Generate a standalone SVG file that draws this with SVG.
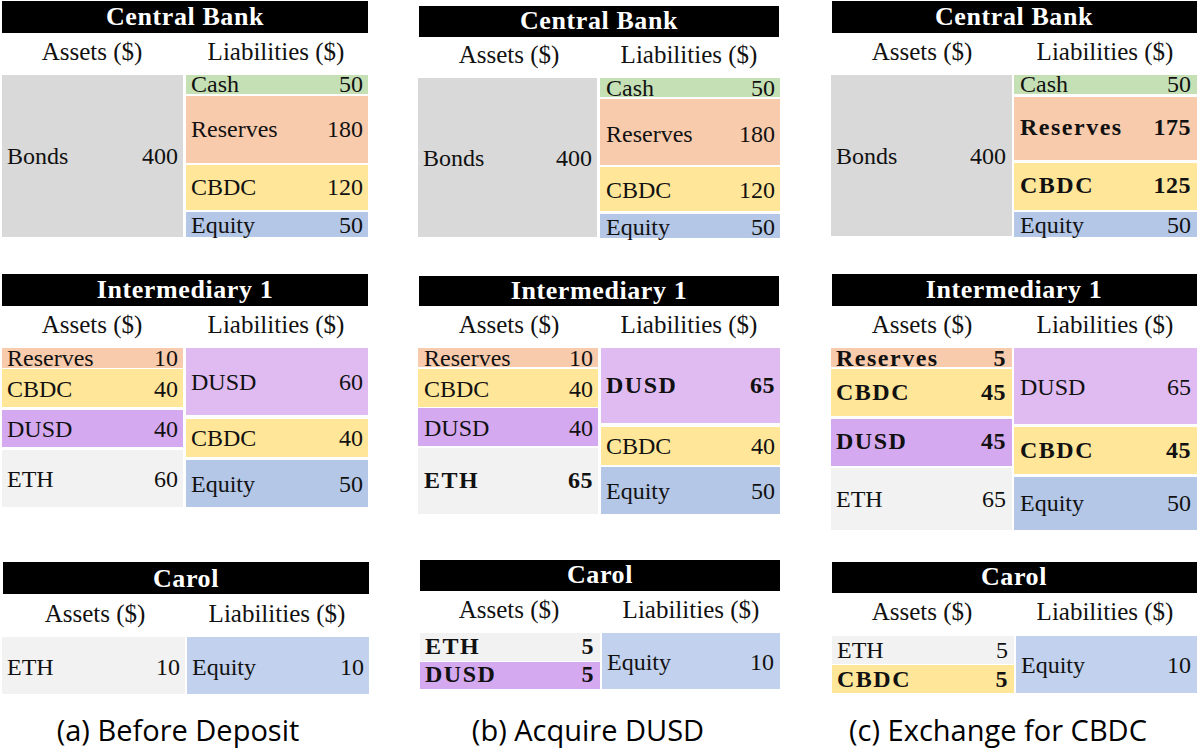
<svg xmlns="http://www.w3.org/2000/svg" width="1200" height="753" viewBox="0 0 1200 753">
<style>
.bar{fill:#000}
.ttl{font-family:"Liberation Serif","Times New Roman",serif;font-size:26px;font-weight:bold;fill:#fff;text-anchor:middle;letter-spacing:0.6px}
.hd{font-family:"Liberation Serif","Times New Roman",serif;font-size:25px;fill:#111;text-anchor:middle}
.t{font-family:"Liberation Serif","Times New Roman",serif;font-size:24px;fill:#111}
.n{font-family:"Liberation Serif","Times New Roman",serif;font-size:24px;fill:#111;text-anchor:end}
.t.b{font-weight:bold;letter-spacing:1.5px}
.n.b{font-weight:bold;letter-spacing:0.5px}
.cap{font-family:"Open Sans","Noto Sans","DejaVu Sans",sans-serif;font-size:29px;fill:#000;text-anchor:middle}
.bonds{fill:#d9d9d9}.eth{fill:#f2f2f2}.cash{fill:#c5e0b4}.res{fill:#f8cbad}.cbdc{fill:#ffe699}.eq{fill:#b4c7e7}.eq2{fill:#c2d2ee}.dusdA{fill:#d5a9f0}.dusdL{fill:#e0bbf2}
</style>
<rect width="1200" height="753" fill="#fff"/>

<!-- Column (a) -->
<g id="cb-a">
<rect class="bar" x="2" y="1" width="366" height="32"/>
<text class="ttl" x="185" y="25">Central Bank</text>
<text class="hd" x="92" y="60">Assets ($)</text>
<text class="hd" x="276" y="60">Liabilities ($)</text>
<rect class="bonds" x="2" y="75" width="181" height="162"/>
<text class="t" x="7" y="164">Bonds</text><text class="n" x="178" y="164">400</text>
<rect class="cash" x="186" y="75" width="182" height="19"/>
<text class="t" x="191" y="92">Cash</text><text class="n" x="363" y="92">50</text>
<rect class="res" x="186" y="96" width="182" height="67"/>
<text class="t" x="191" y="137">Reserves</text><text class="n" x="363" y="137">180</text>
<rect class="cbdc" x="186" y="165" width="182" height="45"/>
<text class="t" x="191" y="195">CBDC</text><text class="n" x="363" y="195">120</text>
<rect class="eq" x="186" y="212" width="182" height="25"/>
<text class="t" x="191" y="233">Equity</text><text class="n" x="363" y="233">50</text>
</g>

<g id="int-a">
<rect class="bar" x="2" y="274" width="366" height="32"/>
<text class="ttl" x="185" y="298">Intermediary 1</text>
<text class="hd" x="92" y="333">Assets ($)</text>
<text class="hd" x="276" y="333">Liabilities ($)</text>
<rect class="res" x="2" y="348" width="181" height="20"/>
<text class="t" x="7" y="366">Reserves</text><text class="n" x="178" y="366">10</text>
<rect class="cbdc" x="2" y="369" width="181" height="38"/>
<text class="t" x="7" y="397">CBDC</text><text class="n" x="178" y="397">40</text>
<rect class="dusdA" x="2" y="410" width="181" height="37"/>
<text class="t" x="7" y="437">DUSD</text><text class="n" x="178" y="437">40</text>
<rect class="eth" x="2" y="450" width="181" height="57"/>
<text class="t" x="7" y="487">ETH</text><text class="n" x="178" y="487">60</text>
<rect class="dusdL" x="186" y="348" width="182" height="67"/>
<text class="t" x="191" y="390">DUSD</text><text class="n" x="363" y="390">60</text>
<rect class="cbdc" x="186" y="419" width="182" height="38"/>
<text class="t" x="191" y="446">CBDC</text><text class="n" x="363" y="446">40</text>
<rect class="eq" x="186" y="460" width="182" height="47"/>
<text class="t" x="191" y="492">Equity</text><text class="n" x="363" y="492">50</text>
</g>

<g id="carol-a">
<rect class="bar" x="3" y="562" width="366" height="32"/>
<text class="ttl" x="186" y="587">Carol</text>
<text class="hd" x="95" y="622">Assets ($)</text>
<text class="hd" x="277" y="622">Liabilities ($)</text>
<rect class="eth" x="2" y="637" width="183" height="57"/>
<text class="t" x="7" y="675">ETH</text><text class="n" x="180" y="675">10</text>
<rect class="eq2" x="187" y="637" width="182" height="57"/>
<text class="t" x="192" y="675">Equity</text><text class="n" x="364" y="675">10</text>
</g>
<text id="cap-a" class="cap" x="178" y="741">(a) Before Deposit</text>

<!-- Column (b) -->
<g id="cb-b">
<rect class="bar" x="419" y="6" width="360" height="31"/>
<text class="ttl" x="599" y="29">Central Bank</text>
<text class="hd" x="509" y="63">Assets ($)</text>
<text class="hd" x="689" y="63">Liabilities ($)</text>
<rect class="bonds" x="418" y="78" width="179" height="159"/>
<text class="t" x="423" y="166">Bonds</text><text class="n" x="592" y="166">400</text>
<rect class="cash" x="600" y="78" width="180" height="19"/>
<text class="t" x="606" y="96">Cash</text><text class="n" x="775" y="96">50</text>
<rect class="res" x="600" y="99" width="180" height="66"/>
<text class="t" x="606" y="142">Reserves</text><text class="n" x="775" y="142">180</text>
<rect class="cbdc" x="600" y="167" width="180" height="44"/>
<text class="t" x="606" y="198">CBDC</text><text class="n" x="775" y="198">120</text>
<rect class="eq" x="600" y="214" width="180" height="24"/>
<text class="t" x="606" y="235">Equity</text><text class="n" x="775" y="235">50</text>
</g>

<g id="int-b">
<rect class="bar" x="419" y="276" width="360" height="30"/>
<text class="ttl" x="599" y="299">Intermediary 1</text>
<text class="hd" x="509" y="333">Assets ($)</text>
<text class="hd" x="689" y="333">Liabilities ($)</text>
<rect class="res" x="418" y="348" width="180" height="19"/>
<text class="t" x="424" y="366">Reserves</text><text class="n" x="593" y="366">10</text>
<rect class="cbdc" x="418" y="369" width="180" height="38"/>
<text class="t" x="424" y="397">CBDC</text><text class="n" x="593" y="397">40</text>
<rect class="dusdA" x="418" y="408" width="180" height="38"/>
<text class="t" x="424" y="436">DUSD</text><text class="n" x="593" y="436">40</text>
<rect class="eth" x="418" y="448" width="180" height="66"/>
<text class="t b" x="424" y="488">ETH</text><text class="n b" x="593" y="488">65</text>
<rect class="dusdL" x="601" y="348" width="179" height="75"/>
<text class="t b" x="606" y="393">DUSD</text><text class="n b" x="775" y="393">65</text>
<rect class="cbdc" x="601" y="427" width="179" height="38"/>
<text class="t" x="606" y="454">CBDC</text><text class="n" x="775" y="454">40</text>
<rect class="eq" x="601" y="467" width="179" height="47"/>
<text class="t" x="606" y="499">Equity</text><text class="n" x="775" y="499">50</text>
</g>

<g id="carol-b">
<rect class="bar" x="420" y="560" width="360" height="31"/>
<text class="ttl" x="600" y="583">Carol</text>
<text class="hd" x="509" y="618">Assets ($)</text>
<text class="hd" x="691" y="618">Liabilities ($)</text>
<rect class="eth" x="420" y="633" width="180" height="28"/>
<text class="t b" x="425" y="654">ETH</text><text class="n b" x="594" y="654">5</text>
<rect class="dusdA" x="420" y="662" width="180" height="27"/>
<text class="t b" x="425" y="682">DUSD</text><text class="n b" x="594" y="682">5</text>
<rect class="eq2" x="602" y="633" width="178" height="56"/>
<text class="t" x="607" y="670">Equity</text><text class="n" x="774" y="670">10</text>
</g>
<text id="cap-b" class="cap" x="588" y="741">(b) Acquire DUSD</text>

<!-- Column (c) -->
<g id="cb-c">
<rect class="bar" x="832" y="1" width="365" height="32"/>
<text class="ttl" x="1014" y="25">Central Bank</text>
<text class="hd" x="922" y="60">Assets ($)</text>
<text class="hd" x="1105" y="60">Liabilities ($)</text>
<rect class="bonds" x="831" y="75" width="181" height="161"/>
<text class="t" x="836" y="164">Bonds</text><text class="n" x="1006" y="164">400</text>
<rect class="cash" x="1014" y="75" width="183" height="19"/>
<text class="t" x="1020" y="92">Cash</text><text class="n" x="1191" y="92">50</text>
<rect class="res" x="1014" y="97" width="183" height="63"/>
<text class="t b" x="1020" y="135">Reserves</text><text class="n b" x="1191" y="135">175</text>
<rect class="cbdc" x="1014" y="163" width="183" height="47"/>
<text class="t b" x="1020" y="193">CBDC</text><text class="n b" x="1191" y="193">125</text>
<rect class="eq" x="1014" y="212" width="183" height="25"/>
<text class="t" x="1020" y="233">Equity</text><text class="n" x="1191" y="233">50</text>
</g>

<g id="int-c">
<rect class="bar" x="832" y="274" width="365" height="32"/>
<text class="ttl" x="1014" y="298">Intermediary 1</text>
<text class="hd" x="922" y="333">Assets ($)</text>
<text class="hd" x="1105" y="333">Liabilities ($)</text>
<rect class="res" x="831" y="348" width="181" height="19"/>
<text class="t b" x="836" y="366">Reserves</text><text class="n b" x="1006" y="366">5</text>
<rect class="cbdc" x="831" y="369" width="181" height="47"/>
<text class="t b" x="836" y="400">CBDC</text><text class="n b" x="1006" y="400">45</text>
<rect class="dusdA" x="831" y="419" width="181" height="47"/>
<text class="t b" x="836" y="449">DUSD</text><text class="n b" x="1006" y="449">45</text>
<rect class="eth" x="831" y="468" width="181" height="62"/>
<text class="t" x="836" y="507">ETH</text><text class="n" x="1006" y="507">65</text>
<rect class="dusdL" x="1014" y="348" width="183" height="76"/>
<text class="t" x="1020" y="395">DUSD</text><text class="n" x="1191" y="395">65</text>
<rect class="cbdc" x="1014" y="427" width="183" height="47"/>
<text class="t b" x="1020" y="458">CBDC</text><text class="n b" x="1191" y="458">45</text>
<rect class="eq" x="1014" y="477" width="183" height="53"/>
<text class="t" x="1020" y="511">Equity</text><text class="n" x="1191" y="511">50</text>
</g>

<g id="carol-c">
<rect class="bar" x="832" y="562" width="365" height="31"/>
<text class="ttl" x="1014" y="585">Carol</text>
<text class="hd" x="922" y="620">Assets ($)</text>
<text class="hd" x="1105" y="620">Liabilities ($)</text>
<rect class="eth" x="832" y="636" width="182" height="28"/>
<text class="t" x="837" y="658">ETH</text><text class="n" x="1008" y="658">5</text>
<rect class="cbdc" x="832" y="665" width="182" height="28"/>
<text class="t b" x="837" y="687">CBDC</text><text class="n b" x="1008" y="687">5</text>
<rect class="eq2" x="1016" y="636" width="181" height="57"/>
<text class="t" x="1021" y="673">Equity</text><text class="n" x="1191" y="673">10</text>
</g>
<text id="cap-c" class="cap" x="998" y="741">(c) Exchange for CBDC</text>
</svg>
